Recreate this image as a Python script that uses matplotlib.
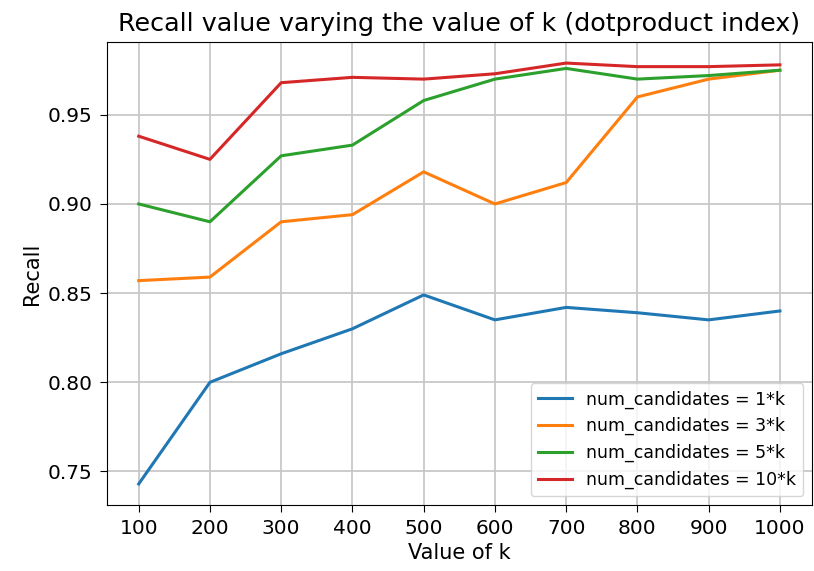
import matplotlib
matplotlib.use("Agg")
import matplotlib.pyplot as plt

# k values and recall per num_candidates multiplier
k_values = [100, 200, 300, 400, 500, 600, 700, 800, 900, 1000]
recall_1k = [0.743, 0.800, 0.816, 0.830, 0.849, 0.835, 0.842, 0.839, 0.835, 0.840]
recall_3k = [0.857, 0.859, 0.890, 0.894, 0.918, 0.900, 0.912, 0.960, 0.970, 0.975]
recall_5k = [0.900, 0.890, 0.927, 0.933, 0.958, 0.970, 0.976, 0.970, 0.972, 0.975]
recall_10k = [0.938, 0.925, 0.968, 0.971, 0.970, 0.973, 0.979, 0.977, 0.977, 0.978]
labels = ["num_candidates = 1*k", "num_candidates = 3*k",
          "num_candidates = 5*k", "num_candidates = 10*k"]

fig = plt.figure(figsize=(8.14, 5.71), dpi=100)
ax = fig.add_axes([0.131, 0.1156, 0.8665, 0.8108])

for vals, lab in zip([recall_1k, recall_3k, recall_5k, recall_10k], labels):
    ax.plot(k_values, vals, label=lab, linewidth=2.2)

ax.set_xticks(k_values)
ax.tick_params(labelsize=14.5, length=5, pad=5)
ax.set_xlabel("Value of k", fontsize=15, labelpad=4)
ax.set_ylabel("Recall", fontsize=15)
ax.set_title("Recall value varying the value of k (dotproduct index)", fontsize=18.3, pad=8)
ax.grid(True, linewidth=1.3, color="#c8c8c8")
ax.legend(loc="lower right", fontsize=12.5)

fig.savefig("out.png", dpi=100)
